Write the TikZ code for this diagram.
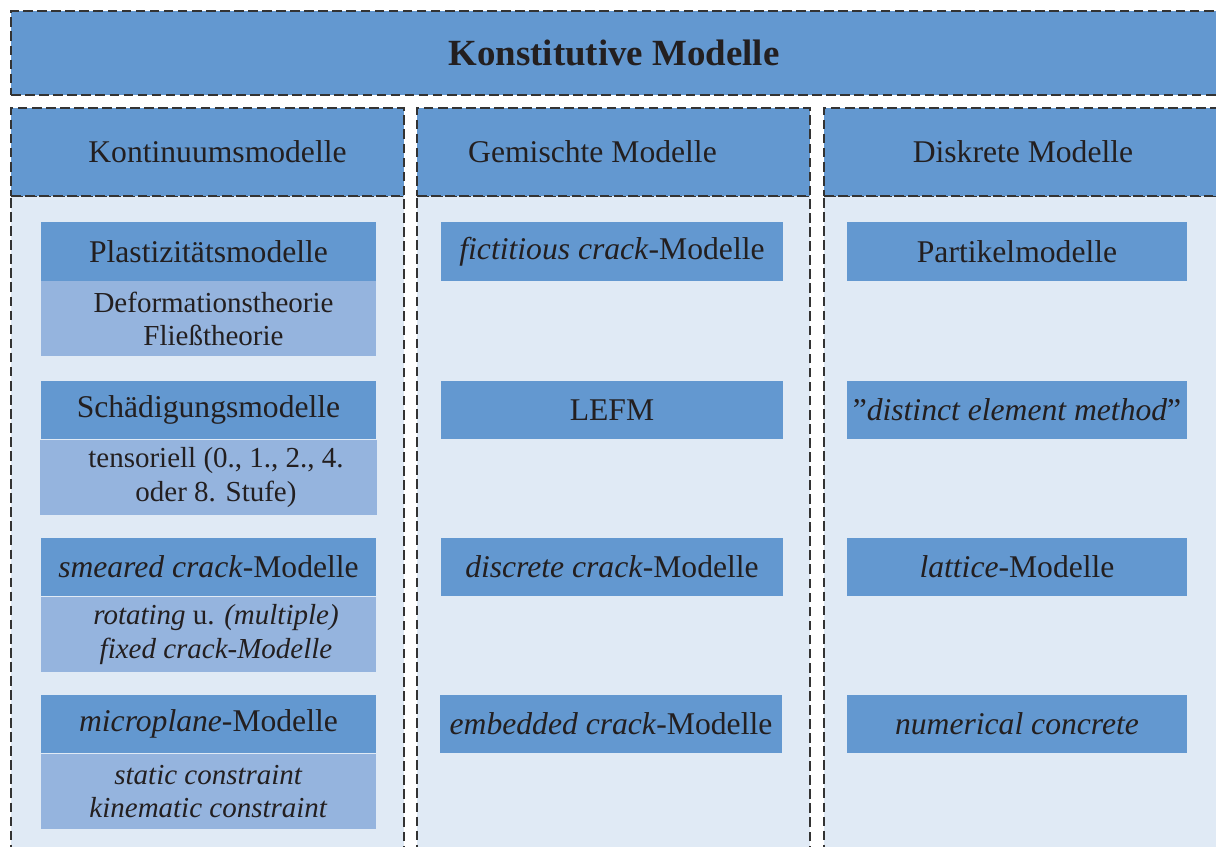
\documentclass[tikz,border=0pt]{standalone}
\usepackage{fontspec}
\setmainfont{Liberation Serif}
\usetikzlibrary{positioning}
\definecolor{headblue}{HTML}{6398D0}
\definecolor{subblue}{HTML}{95B4DE}
\definecolor{colbg}{HTML}{E0EAF5}
\definecolor{dashgray}{HTML}{333333}
\definecolor{inktext}{HTML}{231F20}

\begin{document}
\begin{tikzpicture}[x=0.02cm, y=-0.02cm,
    dashbox/.style={draw=dashgray, line width=0.75pt, dash pattern=on 5.5pt off 2.5pt, inner sep=0pt, text=inktext},
    banner/.style={dashbox, fill=headblue, minimum width=24.12cm, minimum height=1.68cm, font=\fontsize{21}{24}\selectfont\bfseries},
    colhead/.style={dashbox, fill=headblue, minimum width=7.86cm, minimum height=1.76cm, font=\fontsize{18}{21}\selectfont},
    colbody/.style={dashbox, fill=colbg, minimum width=7.86cm, minimum height=13.48cm},
    box/.style={fill=headblue, inner sep=0pt, minimum height=1.17cm, align=center, text=inktext, font=\fontsize{18}{21}\selectfont},
    subbox/.style={fill=subblue, inner sep=0pt, minimum height=1.5cm, align=center, text=inktext, font=\fontsize{16.5}{19}\selectfont},
]
\useasboundingbox (0,0) rectangle (1216,847);
\clip (0,0) rectangle (1216,847);

% title and columns
\node[banner] (title) at (614,53) {Konstitutive Modelle};

\node[colbody] (kontbody) at (207.5,533) {};
\node[colbody] (gemibody) at (613.5,533) {};
\node[colbody] (diskbody) at (1020.5,533) {};
\node[colhead] (kont) at (207.5,152) {\hspace*{0.4cm}Kontinuumsmodelle};
\node[colhead] (gemi) at (613.5,152) {Gemischte Modelle\hspace*{0.84cm}};
\node[colhead] (disk) at (1020.5,152) {\hspace*{0.1cm}Diskrete Modelle};

% Kontinuumsmodelle
\node[box, minimum width=6.7cm] (plast) at (208.5,251.5) {Plastizitätsmodelle};
\node[subbox, minimum width=6.7cm, below=0pt of plast] (plastsub) {\hspace*{0.2cm}Deformationstheorie\\\hspace*{0.2cm}Fließtheorie};
\node[box, minimum width=6.7cm] (schaed) at (208.5,410) {Schädigungsmodelle};
\node[subbox, minimum width=6.76cm, below=0pt of schaed] (schaedsub) {\hspace*{0.3cm}tensoriell (0., 1., 2., 4.\\\hspace*{0.3cm}oder 8. Stufe)};
\node[box, minimum width=6.7cm] (smeared) at (208.5,567) {\textit{smeared crack}-Modelle};
\node[subbox, minimum width=6.7cm, below=0pt of smeared] (smearedsub) {\hspace*{0.3cm}\textit{rotating} u. \textit{(multiple)}\\\hspace*{0.3cm}\textit{fixed crack-Modelle}};
\node[box, minimum width=6.7cm] (micro) at (208.5,724) {\textit{microplane}-Modelle};
\node[subbox, minimum width=6.7cm, below=0pt of micro] (microsub) {\textit{static constraint}\\\textit{kinematic constraint}};

% Gemischte Modelle
\node[box, minimum width=6.84cm] (fict) at (612,251.5) {\textit{fictitious crack}-Modelle};
\node[box, minimum width=6.84cm] (lefm) at (612,410) {LEFM};
\node[box, minimum width=6.84cm] (discr) at (612,567) {\textit{discrete crack}-Modelle};
\node[box, minimum width=6.84cm] (embed) at (611,724) {\textit{embedded crack}-Modelle};

% Diskrete Modelle
\node[box, minimum width=6.8cm] (partikel) at (1017,251.5) {Partikelmodelle};
\node[box, minimum width=6.8cm] (distinct) at (1017,410) {''\textit{distinct element method}''};
\node[box, minimum width=6.8cm] (lattice) at (1017,567) {\textit{lattice}-Modelle};
\node[box, minimum width=6.8cm] (numconc) at (1017,724) {\textit{numerical concrete}};
\end{tikzpicture}
\end{document}
